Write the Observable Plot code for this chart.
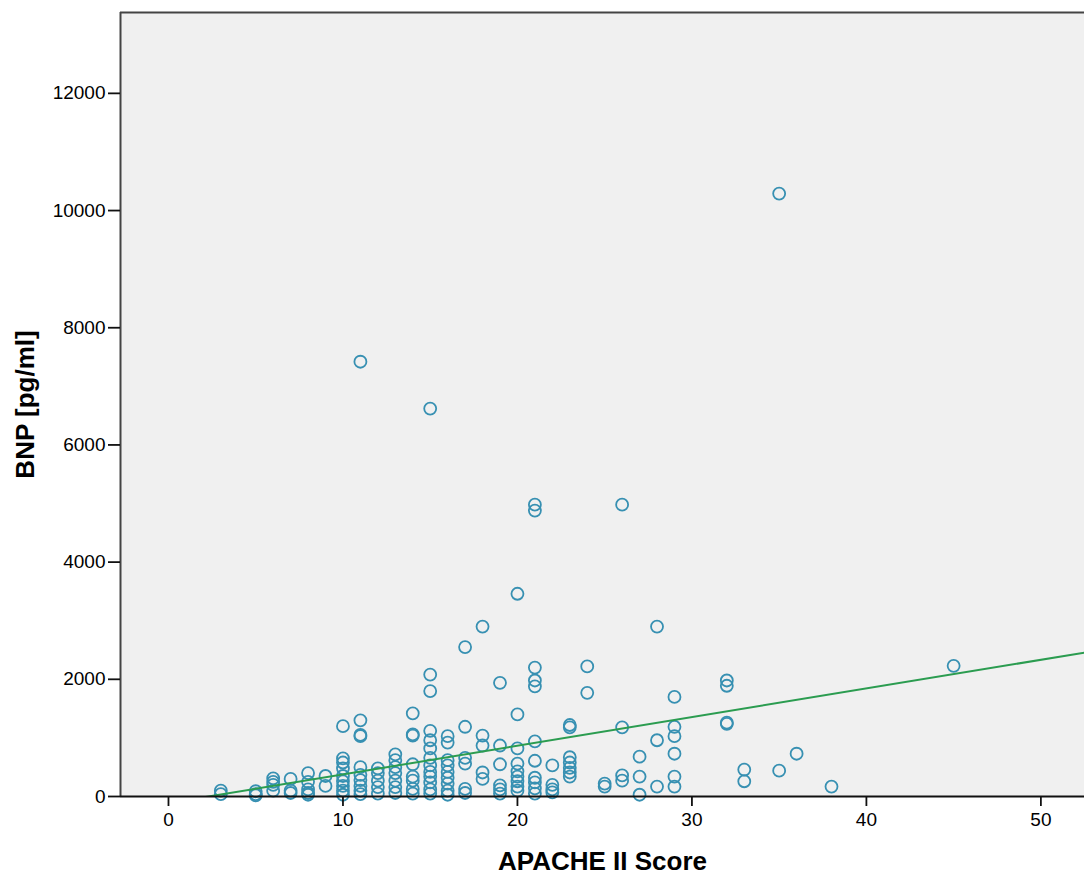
<!DOCTYPE html>
<html>
<head>
<meta charset="utf-8">
<script src="https://cdn.jsdelivr.net/npm/d3@7"></script>
<script src="https://cdn.jsdelivr.net/npm/@observablehq/plot@0.6"></script>
<style>
  html, body { margin: 0; padding: 0; background: #fff; }
  #chart svg { display: block; }
</style>
</head>
<body>
<div id="chart"></div>
<script>
// APACHE II score columns and the BNP values [pg/ml] observed in each column
const apacheScore = [3,5,6,7,8,9,10,11,12,13,14,15,16,17,18,19,20,21,22,23,24,25,26,27,28,29,32,33,35,36,38,45];
const bnpValues = [
  [100,40],
  [90,40,20],
  [310,250,200,100],
  [300,100,60],
  [400,250,120,60,30],
  [350,180],
  [1200,650,580,480,350,260,180,100,30],
  [7420,1300,1050,1030,500,370,280,180,100,40],
  [480,400,270,160,50],
  [720,620,500,400,270,160,60],
  [1420,1060,1040,550,340,270,130,50],
  [6620,2080,1800,1120,960,820,660,530,420,340,240,120,50],
  [1030,920,620,530,420,320,220,100,30],
  [2550,1190,660,560,130,60],
  [2900,1040,870,410,300],
  [1940,870,550,190,120,50],
  [3460,1400,820,560,430,340,260,170,100],
  [4980,4880,2200,1980,1880,940,610,320,240,140,50],
  [530,200,120,70],
  [1220,1180,670,580,490,410,340],
  [2220,1770],
  [220,170],
  [4980,1180,360,270],
  [680,340,30],
  [2900,960,170],
  [1700,1190,1030,730,340,170],
  [1980,1890,1260,1240],
  [460,260],
  [10290,440],
  [730],
  [170],
  [2230]
];
// fit line (linear)
const fitIntercept = -112;
const fitSlope = 48.9;
// axes
const xDomain = [-2.75, 52.5];
const yDomain = [0, 13380];
const xTicks = [0, 10, 20, 30, 40, 50];
const yTicks = [0, 2000, 4000, 6000, 8000, 10000, 12000];
const xTitle = "APACHE II Score";
const yTitle = "BNP [pg/ml]";

const points = apacheScore.flatMap((a, i) => bnpValues[i].map(b => ({apache: a, bnp: b})));
const fitLine = xDomain.map(x => ({apache: x, bnp: fitIntercept + fitSlope * x}));

const chart = Plot.plot({
  width: 1084,
  height: 875,
  marginLeft: 120,
  marginRight: 0,
  marginTop: 12,
  marginBottom: 79,
  style: {fontFamily: "'Liberation Sans', Arial, sans-serif", fontSize: "19px", color: "#000", background: "#fff"},
  x: {domain: xDomain},
  y: {domain: yDomain},
  marks: [
    Plot.frame({fill: "#f0f0f0"}),
    Plot.ruleY([yDomain[1]], {stroke: "#444", strokeWidth: 2}),
    Plot.ruleX([xDomain[0]], {stroke: "#444", strokeWidth: 2}),
    Plot.dot(points, {x: "apache", y: "bnp", r: 6, stroke: "#3790b2", strokeWidth: 1.8, fill: "none"}),
    Plot.line(fitLine, {x: "apache", y: "bnp", stroke: "#2b9c50", strokeWidth: 2, clip: true}),
    Plot.ruleY([0], {stroke: "#111", strokeWidth: 2}),
    Plot.axisX({ticks: xTicks, tickSize: 10, tickPadding: 6, tickFormat: d => String(d), label: null, stroke: "#111", strokeWidth: 1.8, fontSize: 19}),
    Plot.axisY({ticks: yTicks, tickSize: 12, tickPadding: 3, tickFormat: d => String(d), label: null, stroke: "#111", strokeWidth: 1.8, fontSize: 19}),
    Plot.text([xTitle], {frameAnchor: "bottom", dy: 65, lineAnchor: "middle", text: d => d, fontSize: 26, fontWeight: "bold", fill: "#000"}),
    Plot.text([yTitle], {frameAnchor: "left", dx: -95, rotate: -90, textAnchor: "middle", lineAnchor: "middle", text: d => d, fontSize: 26, fontWeight: "bold", fill: "#000"})
  ]
});
document.getElementById("chart").appendChild(chart);
</script>
</body>
</html>
